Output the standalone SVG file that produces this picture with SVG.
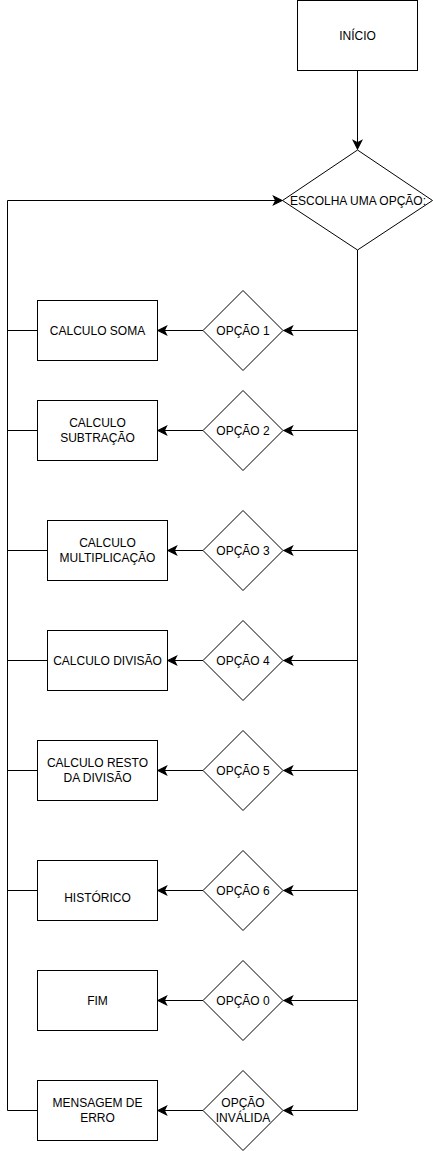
<svg xmlns="http://www.w3.org/2000/svg" width="433" height="1151" viewBox="0 0 433 1151">
<style>
.box{fill:#fff;stroke:#000;stroke-width:1}
.lbl{font-family:"Liberation Sans",Arial,Helvetica,sans-serif;font-size:12px;fill:#000;text-anchor:middle}
.edge{fill:none;stroke:#000;stroke-width:1}
.arr{fill:none;stroke:#000;stroke-width:1;marker-end:url(#ah)}
</style>
<defs>
<marker id="ah" markerUnits="userSpaceOnUse" markerWidth="12" markerHeight="12" viewBox="-8 -5 10 10" refX="0" refY="0" orient="auto">
<path d="M-7,-3.5 L0,0 L-7,3.5 L-5.25,0 Z" fill="#000" stroke="#000" stroke-width="1"/>
</marker>
</defs>
<rect width="433" height="1151" fill="#fff"/>
<g id="connectors">
<path class="arr" d="M357.5,70 L357.5,149"/>
<path class="edge" d="M357.5,250 L357.5,1110.5"/>
<path class="arr" d="M357.5,330.5 L284,330.5"/>
<path class="arr" d="M357.5,430.5 L284,430.5"/>
<path class="arr" d="M357.5,550.5 L284,550.5"/>
<path class="arr" d="M357.5,660.5 L284,660.5"/>
<path class="arr" d="M357.5,770.5 L284,770.5"/>
<path class="arr" d="M357.5,890.5 L284,890.5"/>
<path class="arr" d="M357.5,1000.5 L284,1000.5"/>
<path class="arr" d="M357.5,1110.5 L284,1110.5"/>
<path class="arr" d="M203,330.5 L158,330.5"/>
<path class="arr" d="M203,430.5 L158,430.5"/>
<path class="arr" d="M203,550.5 L168,550.5"/>
<path class="arr" d="M203,660.5 L168,660.5"/>
<path class="arr" d="M203,770.5 L158,770.5"/>
<path class="arr" d="M203,890.5 L158,890.5"/>
<path class="arr" d="M203,1000.5 L158,1000.5"/>
<path class="arr" d="M203,1110.5 L158,1110.5"/>
<path class="edge" d="M37,330.5 L7.5,330.5"/>
<path class="edge" d="M37,430.5 L7.5,430.5"/>
<path class="edge" d="M47,550.5 L7.5,550.5"/>
<path class="edge" d="M47,660.5 L7.5,660.5"/>
<path class="edge" d="M37,770.5 L7.5,770.5"/>
<path class="edge" d="M37,890.5 L7.5,890.5"/>
<path class="arr" d="M37,1110.5 L7.5,1110.5 L7.5,200.5 L282,200.5"/>
</g>
<g id="inicio">
<rect class="box" x="297.5" y="0.5" width="120" height="70"/>
<text class="lbl" x="357.5" y="39.5">INÍCIO</text>
</g>
<g id="escolha">
<path class="box" d="M357.5,150 L432.5,200.5 L357.5,250 L282.5,200.5 Z"/>
<text class="lbl" x="358" y="204.5">ESCOLHA UMA OPÇÃO:</text>
</g>
<g id="opcao1">
<path class="box" d="M243,290.5 L283,330.5 L243,370.5 L203,330.5 Z"/>
<text class="lbl" x="243" y="334.5">OPÇÃO 1</text>
</g>
<g id="soma">
<rect class="box" x="37.5" y="300.5" width="120" height="60"/>
<text class="lbl" x="97.5" y="334.5">CALCULO SOMA</text>
</g>
<g id="opcao2">
<path class="box" d="M243,390.5 L283,430.5 L243,470.5 L203,430.5 Z"/>
<text class="lbl" x="243" y="434.5">OPÇÃO 2</text>
</g>
<g id="subtracao">
<rect class="box" x="37.5" y="400.5" width="120" height="60"/>
<text class="lbl" x="97.5" y="427">CALCULO</text>
<text class="lbl" x="97.5" y="442">SUBTRAÇÃO</text>
</g>
<g id="opcao3">
<path class="box" d="M243,510.5 L283,550.5 L243,590.5 L203,550.5 Z"/>
<text class="lbl" x="243" y="554.5">OPÇÃO 3</text>
</g>
<g id="multiplicacao">
<rect class="box" x="47.5" y="520.5" width="120" height="60"/>
<text class="lbl" x="107.5" y="547">CALCULO</text>
<text class="lbl" x="107.5" y="562">MULTIPLICAÇÃO</text>
</g>
<g id="opcao4">
<path class="box" d="M243,620.5 L283,660.5 L243,700.5 L203,660.5 Z"/>
<text class="lbl" x="243" y="664.5">OPÇÃO 4</text>
</g>
<g id="divisao">
<rect class="box" x="47.5" y="630.5" width="120" height="60"/>
<text class="lbl" x="107.5" y="664.5">CALCULO DIVISÃO</text>
</g>
<g id="opcao5">
<path class="box" d="M243,730.5 L283,770.5 L243,810.5 L203,770.5 Z"/>
<text class="lbl" x="243" y="774.5">OPÇÃO 5</text>
</g>
<g id="resto">
<rect class="box" x="37.5" y="740.5" width="120" height="60"/>
<text class="lbl" x="97.5" y="767">CALCULO RESTO</text>
<text class="lbl" x="97.5" y="782">DA DIVISÃO</text>
</g>
<g id="opcao6">
<path class="box" d="M243,850.5 L283,890.5 L243,930.5 L203,890.5 Z"/>
<text class="lbl" x="243" y="894.5">OPÇÃO 6</text>
</g>
<g id="historico">
<rect class="box" x="37.5" y="860.5" width="120" height="60"/>
<text class="lbl" x="97.5" y="901.5">HISTÓRICO</text>
</g>
<g id="opcao0">
<path class="box" d="M243,960.5 L283,1000.5 L243,1040.5 L203,1000.5 Z"/>
<text class="lbl" x="243" y="1004.5">OPÇÃO 0</text>
</g>
<g id="fim">
<rect class="box" x="37.5" y="970.5" width="120" height="60"/>
<text class="lbl" x="97.5" y="1004.5">FIM</text>
</g>
<g id="opcaoInvalida">
<path class="box" d="M243,1070.5 L283,1110.5 L243,1150.5 L203,1110.5 Z"/>
<text class="lbl" x="243" y="1107">OPÇÃO</text>
<text class="lbl" x="243" y="1122">INVÁLIDA</text>
</g>
<g id="erro">
<rect class="box" x="37.5" y="1080.5" width="120" height="60"/>
<text class="lbl" x="97.5" y="1107">MENSAGEM DE</text>
<text class="lbl" x="97.5" y="1122">ERRO</text>
</g>
</svg>
